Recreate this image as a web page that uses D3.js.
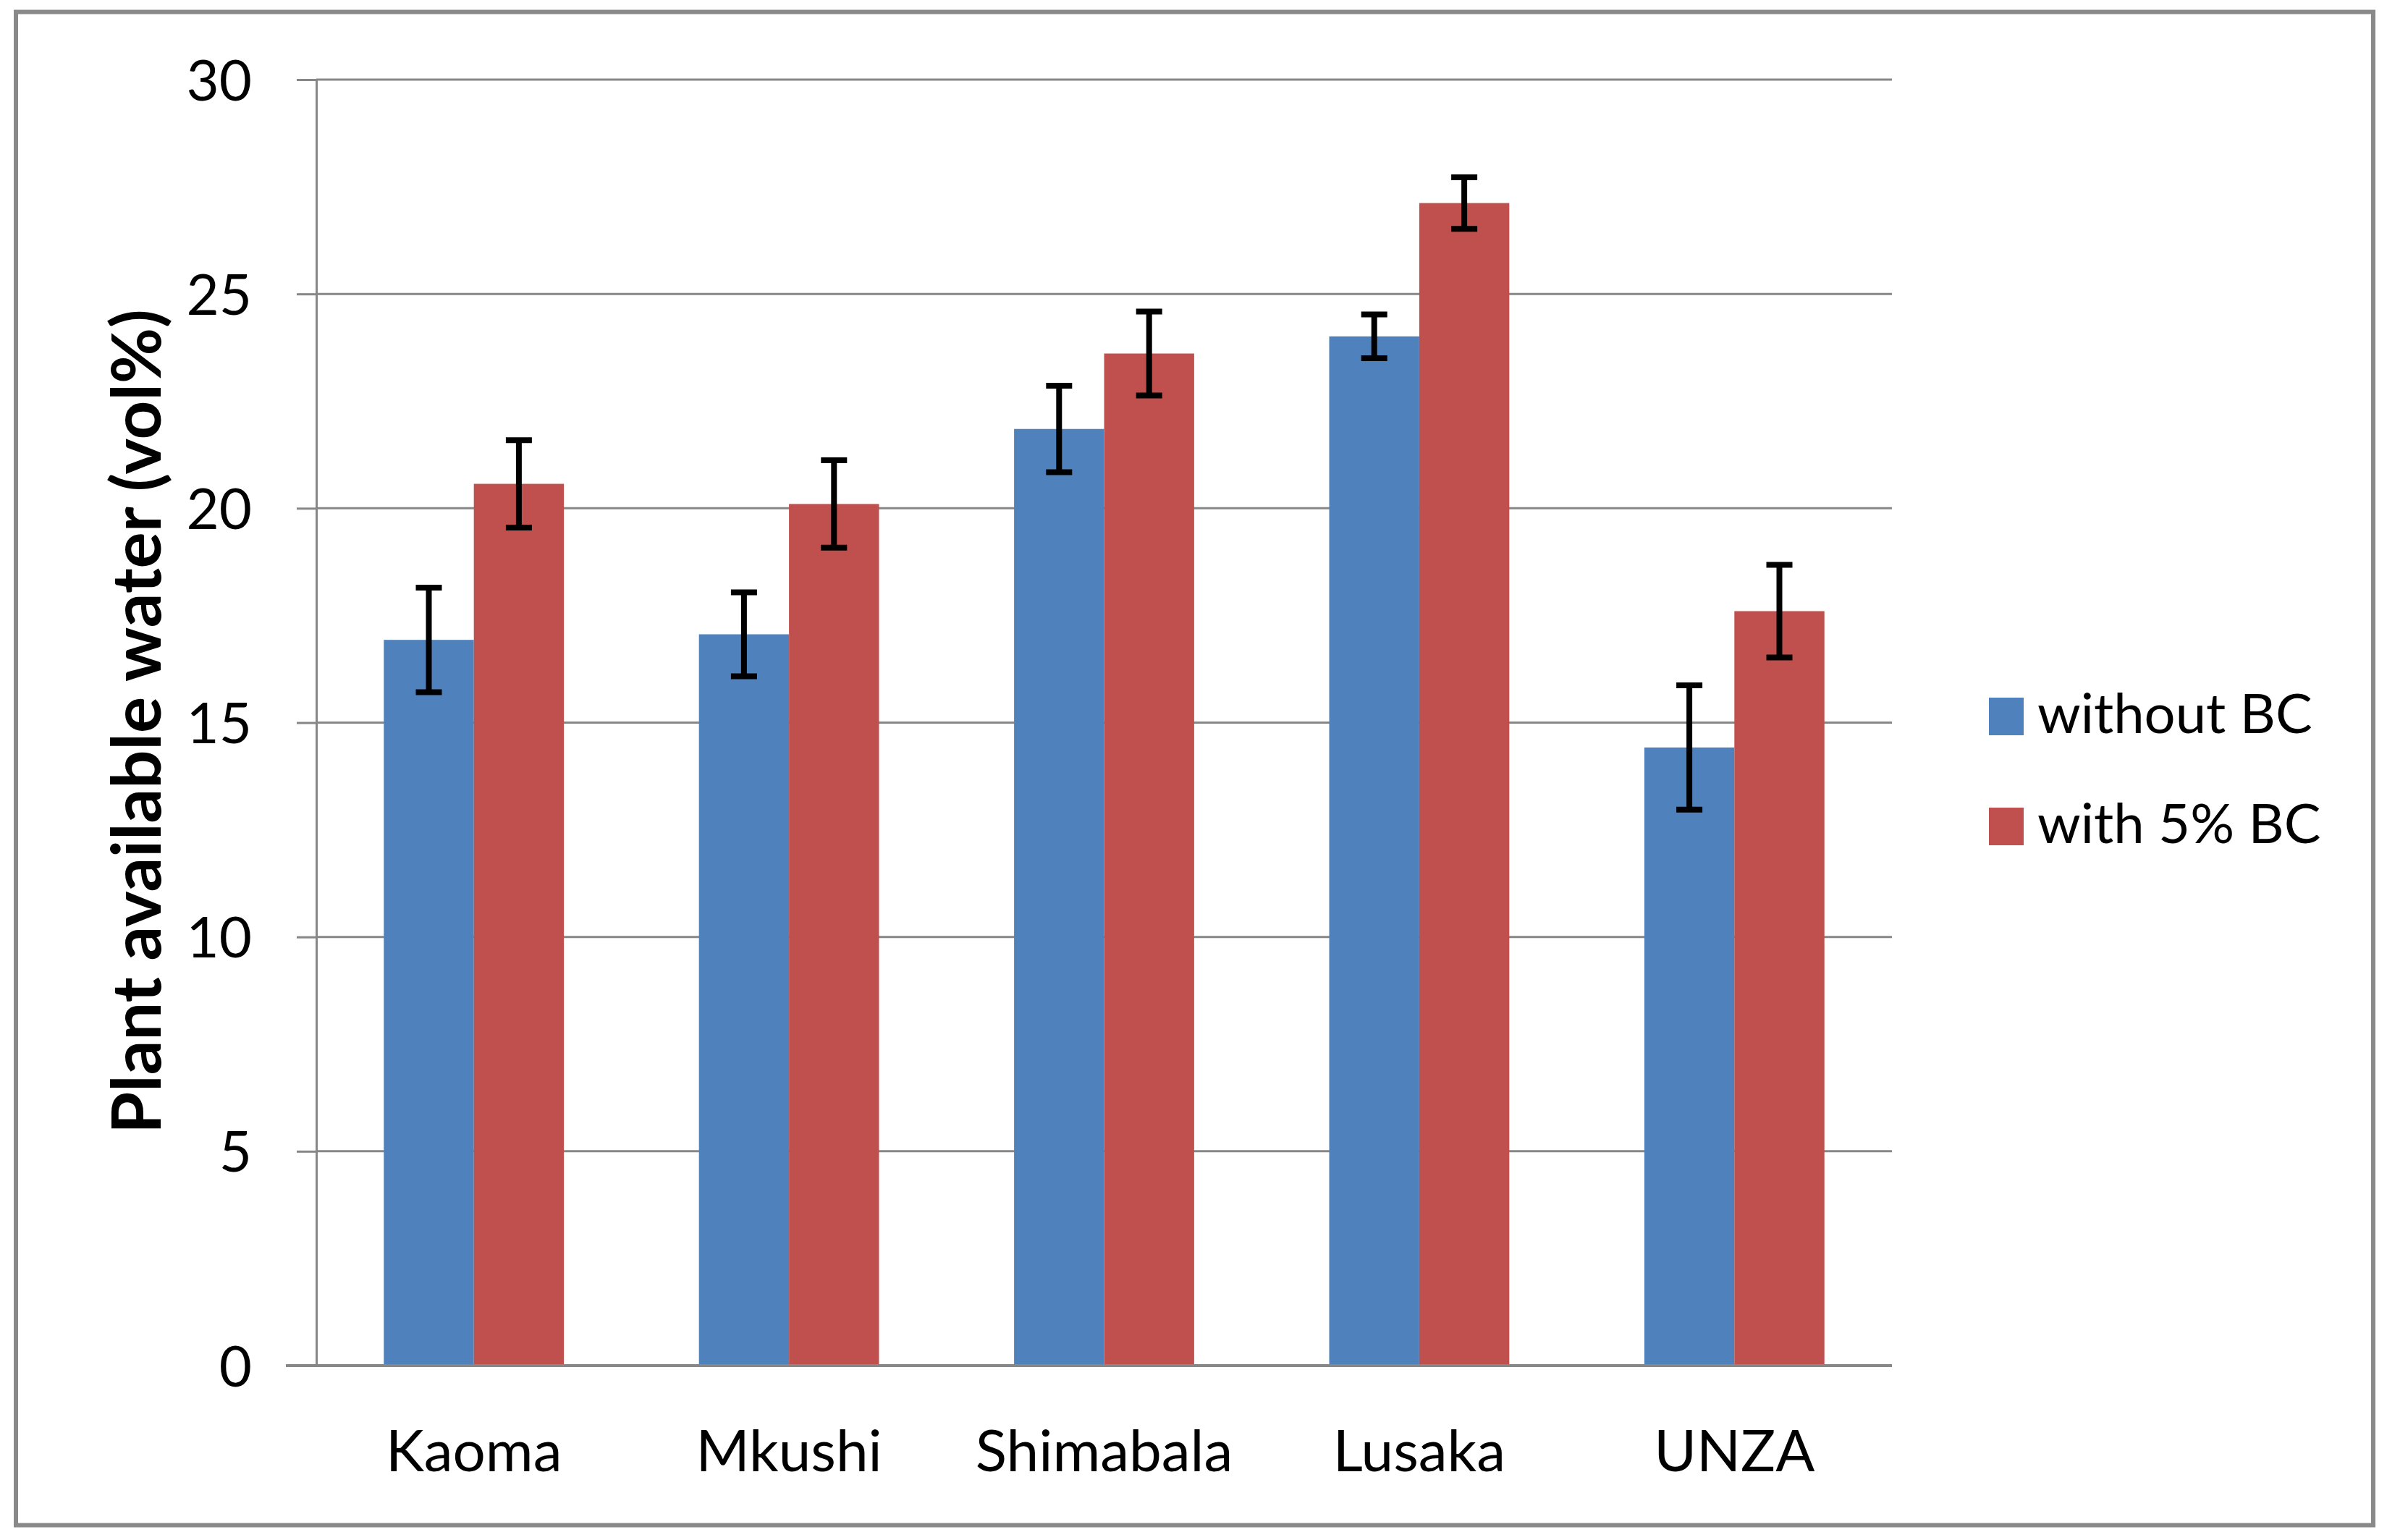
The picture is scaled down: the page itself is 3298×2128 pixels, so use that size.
<!DOCTYPE html>
<html>
<head>
<meta charset="utf-8">
<script src="https://cdn.jsdelivr.net/npm/d3@7"></script>
<style>
  html, body { margin: 0; padding: 0; background: #fff; }
  svg { display: block; }
</style>
</head>
<body>
<svg id="chart" width="3298" height="2128"></svg>
<script>
const categories = ["Kaoma", "Mkushi", "Shimabala", "Lusaka", "UNZA"];
const seriesNames = ["without BC", "with 5% BC"];
const withoutBC = [16.93, 17.06, 21.85, 24.01, 14.42];
const with5BC = [20.57, 20.10, 23.61, 27.12, 17.60];
const errWithoutBC = [1.22, 0.98, 1.01, 0.51, 1.45];
const errWith5BC = [1.02, 1.02, 0.98, 0.60, 1.08];
const yTicks = [0, 5, 10, 15, 20, 25, 30];
const yTitle = "Plant available water (vol%)";

(function () {
const colors = ["#4F81BD", "#C0504D"];
const gridColor = "#878787";
const font = "Lato, 'Open Sans', sans-serif";

const svg = d3.select("#chart");
svg.append("rect").attr("width", 3298).attr("height", 2128).attr("fill", "#fff");

// outer border
svg.append("rect")
  .attr("x", 22).attr("y", 16.5).attr("width", 3257).attr("height", 2091)
  .attr("fill", "none").attr("stroke", "#898989").attr("stroke-width", 6);

const pLeft = 437, pRight = 2614, pTop = 110, pBottom = 1887;

const y = d3.scaleLinear().domain([0, 30]).range([pBottom, pTop]);
const x0 = d3.scaleBand().domain(categories).range([pLeft, pRight])
  .paddingInner(1.5 / 3.5).paddingOuter(0.75 / 3.5);
const x1 = d3.scaleBand().domain(seriesNames).range([0, x0.bandwidth()]);

// gridlines
svg.append("g").selectAll("line").data(yTicks.filter(d => d > 0)).join("line")
  .attr("x1", pLeft).attr("x2", pRight)
  .attr("y1", d => y(d)).attr("y2", d => y(d))
  .attr("stroke", gridColor).attr("stroke-width", 3);

const data = categories.map((c, i) => ({
  cat: c,
  vals: [
    { s: seriesNames[0], v: withoutBC[i], e: errWithoutBC[i], c: colors[0] },
    { s: seriesNames[1], v: with5BC[i], e: errWith5BC[i], c: colors[1] }
  ]
}));

// bars
const groups = svg.append("g").selectAll("g").data(data).join("g")
  .attr("transform", d => `translate(${x0(d.cat)},0)`);
groups.selectAll("rect").data(d => d.vals).join("rect")
  .attr("x", d => x1(d.s)).attr("width", x1.bandwidth())
  .attr("y", d => y(d.v)).attr("height", d => y(0) - y(d.v))
  .attr("fill", d => d.c);

// error bars
const capW = 36, ebW = 8;
const cx = d => x1(d.s) + x1.bandwidth() / 2;
const eb = groups.selectAll("g.err").data(d => d.vals).join("g").attr("class", "err");
eb.append("line")
  .attr("x1", cx).attr("x2", cx)
  .attr("y1", d => y(d.v + d.e)).attr("y2", d => y(d.v - d.e))
  .attr("stroke", "#000").attr("stroke-width", ebW);
eb.append("line")
  .attr("x1", d => cx(d) - capW / 2).attr("x2", d => cx(d) + capW / 2)
  .attr("y1", d => y(d.v + d.e)).attr("y2", d => y(d.v + d.e))
  .attr("stroke", "#000").attr("stroke-width", ebW);
eb.append("line")
  .attr("x1", d => cx(d) - capW / 2).attr("x2", d => cx(d) + capW / 2)
  .attr("y1", d => y(d.v - d.e)).attr("y2", d => y(d.v - d.e))
  .attr("stroke", "#000").attr("stroke-width", ebW);

// y axis
const yAxis = svg.append("g").attr("transform", `translate(${pLeft},0)`)
  .call(d3.axisLeft(y).tickValues(yTicks).tickSize(27).tickSizeOuter(0).tickPadding(62));
yAxis.select(".domain").attr("stroke", gridColor).attr("stroke-width", 3);
yAxis.selectAll(".tick line").attr("stroke", gridColor).attr("stroke-width", 3);
yAxis.selectAll(".tick text")
  .attr("font-family", font).attr("font-size", 78).attr("fill", "#000")
  .attr("dy", "0.36em");

// x axis baseline
svg.append("line")
  .attr("x1", 395).attr("x2", pRight).attr("y1", y(0)).attr("y2", y(0))
  .attr("stroke", gridColor).attr("stroke-width", 4);

// x axis labels
const xAxis = svg.append("g").attr("transform", `translate(0,${pBottom})`)
  .call(d3.axisBottom(x0).tickSize(0).tickPadding(89));
xAxis.select(".domain").remove();
xAxis.selectAll(".tick text")
  .attr("font-family", font).attr("font-size", 80).attr("fill", "#000");

// y title
svg.append("text")
  .attr("transform", "translate(222,997) rotate(-90)")
  .attr("text-anchor", "middle")
  .attr("font-family", font).attr("font-weight", "bold").attr("font-size", 94)
  .attr("fill", "#000")
  .text(yTitle);

// legend
const legend = svg.append("g").selectAll("g").data(seriesNames).join("g")
  .attr("transform", (d, i) => `translate(2748,${964 + i * 152})`);
legend.append("rect").attr("width", 48).attr("height", 52).attr("fill", (d, i) => colors[i]);
legend.append("text")
  .attr("x", 67).attr("y", 49)
  .attr("font-family", font).attr("font-size", 76).attr("fill", "#000")
  .text(d => d);
})();
</script>
</body>
</html>
